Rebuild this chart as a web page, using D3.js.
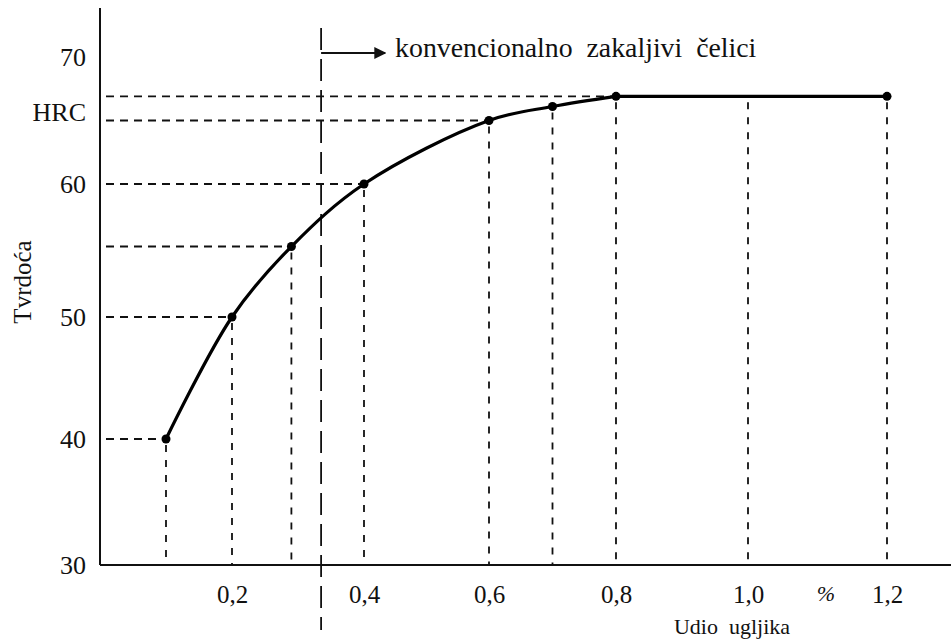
<!DOCTYPE html>
<html>
<head>
<meta charset="utf-8">
<script src="https://cdn.jsdelivr.net/npm/d3@7"></script>
<style>
  body { margin: 0; background: #fff; }
  text { font-family: "Liberation Serif", "Times New Roman", serif; fill: #111; white-space: pre; }
</style>
</head>
<body>
<div id="chart-area"></div>
<script>
// carbon content (%) and hardness (HRC)
var carbon = [0.1, 0.2, 0.29, 0.4, 0.6, 0.7, 0.8, 1.0, 1.2];
var hardness = [40, 50, 55.3, 60, 65.0, 66.1, 66.9, 66.9, 66.9];
// points that get a dashed line across to the hardness axis
var hLineIdx = [0, 1, 2, 3, 4, 6];
// points marked with a dot
var dotIdx = [0, 1, 2, 3, 4, 5, 6, 8];
var plateauStart = 6; // from 0,8 % on the curve is flat
var xTicks = [0.2, 0.4, 0.6, 0.8, 1.0, 1.2];
var yTicks = [30, 40, 50, 60, 70];
var boundary = 0.335; // start of "konvencionalno zakaljivi čelici"

var width = 951, height = 644;

var svg = d3.select("#chart-area").append("svg")
    .attr("width", width)
    .attr("height", height);

// the drawing is a scan, so the scales follow its (slightly uneven) spacing
var x = d3.scaleLinear()
    .domain([0, 0.2, 0.4, 0.6, 0.8, 1.0, 1.2])
    .range([100, 232, 364, 489, 616, 748, 887]);

var y = d3.scaleLinear()
    .domain([30, 40, 50, 60, 70])
    .range([565, 439, 317, 184, 57]);

var data = carbon.map(function (c, i) { return { c: c, h: hardness[i] }; });

// dashed guide lines
svg.append("g").selectAll("line")
    .data(hLineIdx.map(function (i) { return data[i]; }))
    .enter().append("line")
    .attr("x1", x(0) + 6)
    .attr("x2", function (d) { return x(d.c); })
    .attr("y1", function (d) { return y(d.h); })
    .attr("y2", function (d) { return y(d.h); })
    .attr("stroke", "#111")
    .attr("stroke-width", 1.8)
    .attr("stroke-dasharray", "8,6");

svg.append("g").selectAll("line")
    .data(data)
    .enter().append("line")
    .attr("x1", function (d) { return x(d.c); })
    .attr("x2", function (d) { return x(d.c); })
    .attr("y1", function (d) { return y(d.h) + 6; })
    .attr("y2", y(30))
    .attr("stroke", "#111")
    .attr("stroke-width", 1.8)
    .attr("stroke-dasharray", "7,8");

// boundary line
svg.append("line")
    .attr("x1", x(boundary))
    .attr("x2", x(boundary))
    .attr("y1", 28)
    .attr("y2", 630)
    .attr("stroke", "#111")
    .attr("stroke-width", 1.8)
    .attr("stroke-dasharray", "22,9");

// arrow + label
svg.append("defs").append("marker")
    .attr("id", "arrow")
    .attr("viewBox", "0 0 10 10")
    .attr("refX", 9).attr("refY", 5)
    .attr("markerWidth", 6).attr("markerHeight", 6)
    .attr("markerUnits", "strokeWidth")
    .attr("orient", "auto")
    .append("path")
    .attr("d", "M0,0L10,5L0,10Z")
    .attr("fill", "#111");

svg.append("line")
    .attr("x1", x(boundary))
    .attr("x2", x(boundary) + 64)
    .attr("y1", 53)
    .attr("y2", 53)
    .attr("stroke", "#111")
    .attr("stroke-width", 2)
    .attr("marker-end", "url(#arrow)");

svg.append("text")
    .attr("x", x(boundary) + 74)
    .attr("y", 57)
    .style("font-size", "27.8px")
    .text("konvencionalno  zakaljivi  čelici");

// axes
var xAxis = svg.append("g")
    .attr("transform", "translate(0," + y(30) + ")")
    .call(d3.axisBottom(x).tickValues(xTicks).tickSize(0).tickPadding(20)
        .tickFormat(function (d) { return d3.format(".1f")(d).replace(".", ","); }));
xAxis.select(".domain").remove();
xAxis.selectAll("text").style("font-size", "25px");

var yAxis = svg.append("g")
    .attr("transform", "translate(" + x(0) + ",0)")
    .call(d3.axisLeft(y).tickValues(yTicks).tickSize(0).tickPadding(14));
yAxis.select(".domain").remove();
yAxis.selectAll("text").style("font-size", "26px");

svg.append("line")
    .attr("x1", x(0)).attr("x2", width)
    .attr("y1", y(30)).attr("y2", y(30))
    .attr("stroke", "#111").attr("stroke-width", 2);

svg.append("line")
    .attr("x1", x(0)).attr("x2", x(0))
    .attr("y1", 8).attr("y2", y(30))
    .attr("stroke", "#111").attr("stroke-width", 2);

svg.append("text")
    .attr("x", x(0) - 14)
    .attr("y", y(65.6))
    .attr("dy", "0.32em")
    .attr("text-anchor", "end")
    .style("font-size", "26px")
    .text("HRC");

svg.append("text")
    .attr("x", 826)
    .attr("y", y(30) + 20)
    .attr("dy", "0.71em")
    .attr("text-anchor", "middle")
    .style("font-size", "22px")
    .style("font-style", "italic")
    .text("%");

svg.append("text")
    .attr("x", 732)
    .attr("y", 634)
    .attr("text-anchor", "middle")
    .style("font-size", "22px")
    .text("Udio  ugljika");

svg.append("text")
    .attr("transform", "translate(31,282) rotate(-90)")
    .attr("text-anchor", "middle")
    .style("font-size", "25px")
    .text("Tvrdoća");

// curve: smooth rise, then a straight plateau
var line = d3.line()
    .x(function (d) { return x(d.c); })
    .y(function (d) { return y(d.h); });

svg.append("path")
    .datum(data.slice(0, plateauStart + 1))
    .attr("fill", "none")
    .attr("stroke", "#000")
    .attr("stroke-width", 3.2)
    .attr("d", line.curve(d3.curveCatmullRom.alpha(0.5)));

svg.append("path")
    .datum(data.slice(plateauStart))
    .attr("fill", "none")
    .attr("stroke", "#000")
    .attr("stroke-width", 3.2)
    .attr("d", line.curve(d3.curveLinear));

svg.append("g").selectAll("circle")
    .data(dotIdx.map(function (i) { return data[i]; }))
    .enter().append("circle")
    .attr("cx", function (d) { return x(d.c); })
    .attr("cy", function (d) { return y(d.h); })
    .attr("r", 4.5)
    .attr("fill", "#000");
</script>
</body>
</html>
